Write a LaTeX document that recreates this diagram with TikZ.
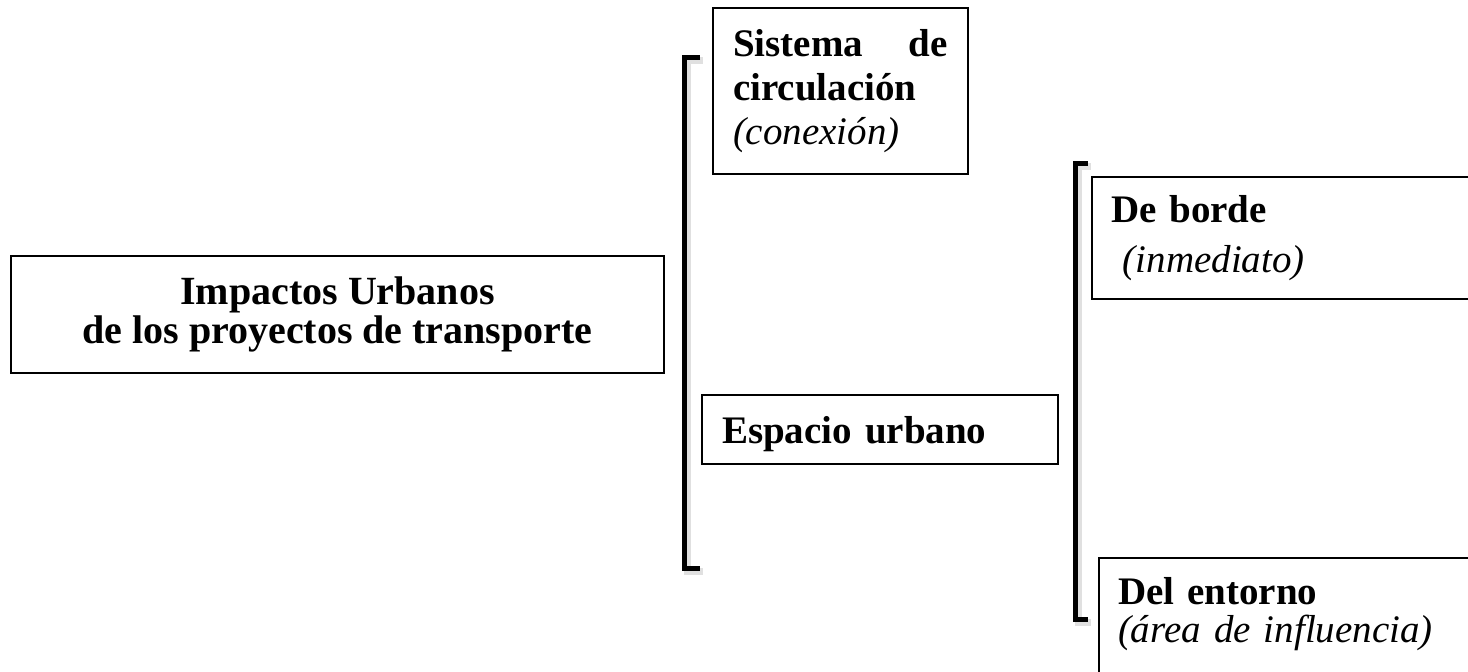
\documentclass[tikz,border=0pt]{standalone}
\usepackage{fontspec}
\setmainfont{Liberation Serif}
\usepackage{tikz}

\begin{document}
\begin{tikzpicture}[x=0.5pt,y=-0.5pt,
  boxstyle/.style={rectangle, draw=black, line width=1pt, anchor=north west, align=left, inner xsep=10pt},
  bracketstyle/.style={draw=black, line width=2.5pt, line join=miter, line cap=butt},
  shadowstyle/.style={draw=black!12, line width=3.5pt, transform canvas={shift={(1.5pt,-1.5pt)}}}]
  \useasboundingbox (0,0) rectangle (1468,671);
  \clip (0,0) rectangle (1468,671);

  \node (main) at (337.5,314.5) [draw=black, line width=1pt, minimum width=326.5pt, minimum height=58.5pt, align=center, font=\bfseries\fontsize{20}{18}\selectfont] {Impactos Urbanos\\de los proyectos de transporte};
  \node (circ) at (712,7) [boxstyle, text width=107.5pt, inner ysep=10.75pt, font=\fontsize{19.5}{22}\selectfont] {\textbf{Sistema \hfill de}\\\textbf{circulación}\\\textit{(conexión)}};
  \node (espacio) at (701,394) [boxstyle, text width=158pt, inner ysep=8.5pt, text height=15.5pt, text depth=2pt, font=\bfseries\fontsize{19.5}{22}\selectfont] {Espacio urbano};
  \node (borde) at (1091,176) [boxstyle, text width=190pt, inner xsep=9.5pt, inner ysep=9.25pt, font=\fontsize{19.5}{25}\selectfont] {\textbf{De borde}\\\hspace*{0.3em}\textit{(inmediato)}};
  \node (entorno) at (1098,557) [boxstyle, text width=190pt, inner xsep=9.5pt, inner ysep=9.8pt, font=\fontsize{19.5}{19}\selectfont] {\textbf{Del entorno}\\\textit{(área de influencia)}\rule[-20pt]{0pt}{20pt}};

  \coordinate (b1a) at (700,57);
  \coordinate (b1b) at (700,568);
  \coordinate (b2a) at (1088,163);
  \coordinate (b2b) at (1088,619);

  \draw[shadowstyle] (b1a) -- ++(-16,0) |- (b1b);
  \draw[shadowstyle] (b2a) -- ++(-13,0) |- (b2b);
  \draw[bracketstyle] (b1a) -- ++(-16,0) |- (b1b);
  \draw[bracketstyle] (b2a) -- ++(-13,0) |- (b2b);
\end{tikzpicture}
\end{document}
